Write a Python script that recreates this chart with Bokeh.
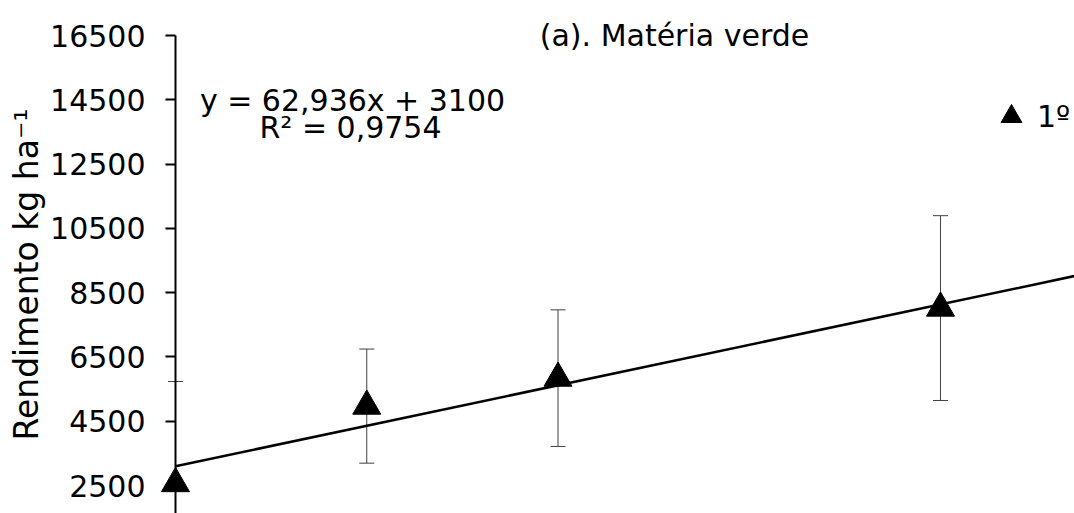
import numpy as np
from bokeh.plotting import figure
from bokeh.models import (Range1d, FixedTicker, Whisker, TeeHead, ColumnDataSource,
                          Label, Legend, LegendItem)
from bokeh.embed import file_html
from bokeh.resources import INLINE

# ---- data ----
doses = [0, 20, 40, 80]
rendimento = [2560, 4970, 5840, 8020]
erro = [3175, 1775, 2125, 2875]
y_ticks = [2500, 4500, 6500, 8500, 10500, 12500, 14500, 16500]
slope = 62.936
intercept = 3100
eq_text = "y = 62,936x + 3100"
r2_text = "R² = 0,9754"
title_text = "(a). Matéria verde"
y_label = "Rendimento kg ha⁻¹"
series_name = "1º"

FONT = "DejaVu Sans"
Y_BOTTOM = 1629
Y_TOP = 17589

p = figure(width=1074, height=513, title=None,
           x_range=Range1d(-18.30, 94.01), y_range=Range1d(Y_BOTTOM, Y_TOP),
           output_backend="svg", toolbar_location=None, x_axis_location=None,
           min_border_left=0, min_border_right=0, min_border_top=0, min_border_bottom=0)
p.outline_line_color = None
p.grid.visible = False
p.background_fill_color = "white"

ax = p.yaxis[0]
ax.ticker = FixedTicker(ticks=y_ticks)
ax.fixed_location = 0
ax.bounds = (Y_BOTTOM, y_ticks[-1])
ax.major_tick_out = 10
ax.major_tick_in = 0
ax.minor_tick_out = 0
ax.minor_tick_in = 0
ax.major_label_standoff = 20
ax.axis_line_width = 2
ax.axis_line_color = "black"
ax.major_tick_line_width = 2
ax.major_tick_line_color = "black"
ax.major_label_text_font = FONT
ax.major_label_text_font_size = "30px"
ax.major_label_text_color = "black"
ax.axis_label = y_label
ax.axis_label_standoff = 1
ax.axis_label_text_font = FONT
ax.axis_label_text_font_size = "33px"
ax.axis_label_text_font_style = "normal"
ax.axis_label_text_color = "black"

src = ColumnDataSource(dict(
    x=doses, y=rendimento,
    upper=[v + e for v, e in zip(rendimento, erro)],
    lower=[v - e for v, e in zip(rendimento, erro)],
))

# trend line from the fitted equation
xs = np.array([0.0, 100.0])
p.line(xs, slope * xs + intercept, line_color="black", line_width=2.5)

wc = "#404040"
p.add_layout(Whisker(base="x", upper="upper", lower="lower", source=src,
                     line_color=wc, line_width=1,
                     upper_head=TeeHead(size=15, line_color=wc, line_width=1),
                     lower_head=TeeHead(size=15, line_color=wc, line_width=1)))

r = p.scatter("x", "y", source=src, marker="triangle", size=28,
              fill_color="black", line_color="black")

legend = Legend(items=[LegendItem(label=series_name, renderers=[r])],
                location=(985, 371), glyph_width=52, glyph_height=52,
                label_standoff=0,
                padding=0, margin=0, spacing=0,
                border_line_color=None, background_fill_alpha=0,
                label_text_font=FONT, label_text_font_size="30px",
                label_text_color="black")
p.add_layout(legend)

p.add_layout(Label(x=674, y=478, x_units="screen", y_units="screen", text=title_text,
                   text_align="center", text_baseline="alphabetic",
                   text_font=FONT, text_font_size="30px", text_color="black"))
p.add_layout(Label(x=352, y=413, x_units="screen", y_units="screen", text=eq_text,
                   text_align="center", text_baseline="alphabetic",
                   text_font=FONT, text_font_size="30px", text_color="black"))
p.add_layout(Label(x=350, y=386, x_units="screen", y_units="screen", text=r2_text,
                   text_align="center", text_baseline="alphabetic",
                   text_font=FONT, text_font_size="30px", text_color="black"))

open("out.html", "w").write(file_html(p, INLINE))
